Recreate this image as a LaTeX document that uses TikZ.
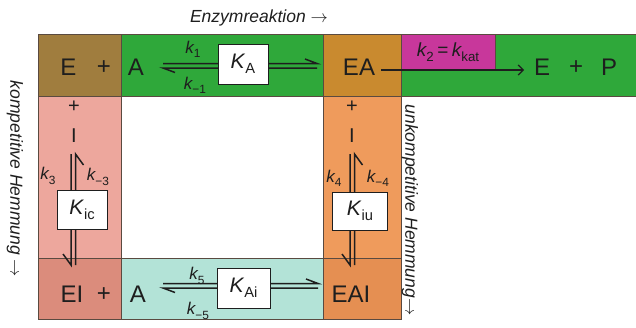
\documentclass[tikz,border=0pt]{standalone}
\usepackage{fontspec}
\setmainfont{Liberation Sans}
\usetikzlibrary{arrows.meta}

\definecolor{cBrown}{HTML}{A07D3E}
\definecolor{cGreen}{HTML}{2FA83A}
\definecolor{cEA}{HTML}{C98A2F}
\definecolor{cMag}{HTML}{C8379B}
\definecolor{cPink}{HTML}{EDA79D}
\definecolor{cEI}{HTML}{DB8C7C}
\definecolor{cCyan}{HTML}{B3E3D7}
\definecolor{cOrange}{HTML}{EF9B5C}
\definecolor{cEAI}{HTML}{E58F52}
\definecolor{cEdge}{HTML}{5A4A40}
\definecolor{cInk}{HTML}{1E1E1E}

% lowered, reduced subscript
\newcommand\lo[1]{\raisebox{-0.25em}{\scalebox{0.7}{#1}}}
% thin arrow for the captions
\newcommand\capar{\ensuremath{\rightarrow}}

\tikzset{
  cell/.style={draw=cEdge, line width=0.6pt},
  big/.style={inner sep=0pt, text=cInk, font=\fontsize{24}{24}\selectfont},
  mid/.style={inner sep=0pt, text=cInk, font=\fontsize{20}{20}\selectfont},
  klab/.style={inner sep=0pt, text=cInk, font=\fontsize{17}{17}\selectfont\itshape},
  kbox/.style={draw=cInk, line width=0.6pt, fill=white, inner sep=0pt,
               text=cInk, font=\fontsize{21}{21}\selectfont},
  note/.style={inner sep=0pt, text=cInk, font=\fontsize{17.5}{17.5}\selectfont\itshape},
  rxn/.style={draw=cInk, line width=1.5pt, line cap=butt},
}

\begin{document}
\begin{tikzpicture}[x=1pt,y=-1pt]
\useasboundingbox (0,0) rectangle (636,327);

% coloured cells of the scheme
\path[cell,fill=cGreen]  (121,34) rectangle (637,96);
\path[cell,fill=cBrown]  (38,34)  rectangle (121,96);
\path[cell,fill=cEA]     (323,34) rectangle (401,96);
\path[cell,fill=cMag]    (401,34) rectangle (495,70);
\path[cell,fill=cPink]   (38,96)  rectangle (121,258);
\path[cell,fill=cEI]     (38,258) rectangle (121,319);
\path[cell,fill=cCyan]   (121,258) rectangle (323,319);
\path[cell,fill=cOrange] (323,96) rectangle (401,258);
\path[cell,fill=cEAI]    (323,258) rectangle (401,319);

% side and top captions
\node[note] (top) at (259,18) {Enzymreaktion \capar};
\node[note, rotate=-90] (left) at (15,179) {kompetitive Hemmung \capar};
\node[note, rotate=-90] (right) at (410,210) {unkompetitive Hemmung\capar};

% species
\node[big] (E1) at (68.5,67) {E};
\node[big] (p1) at (104,68) {+};
\node[big] (A1) at (136,67) {A};
\node[big] (EA) at (359,67) {EA};
\node[big] (E2) at (542,67) {E};
\node[big] (p2) at (576,68) {+};
\node[big] (P)  at (609,67) {P};
\node[big] (EI) at (72,294) {EI};
\node[big] (p3) at (104,295) {+};
\node[big] (A2) at (138,294) {A};
\node[big] (EAI) at (351,294) {EAI};
\node[mid] (pL) at (74,107) {+};
\node[mid] (IL) at (74,136) {I};
\node[mid] (pR) at (352,107) {+};
\node[mid] (IR) at (352,136) {I};

% E + A <=> EA
\coordinate (a1) at (163,63.5); \coordinate (a2) at (317,63.5);
\coordinate (b1) at (163,68); \coordinate (b2) at (317,68);
\draw[rxn] (a1) -- (a2) -- ++(-12,-4.5);
\draw[rxn] (b2) -- (b1) -- ++(12,4.5);
\node[kbox, minimum width=50pt, minimum height=40pt] (KA) at (243,64) {\textit{K}\lo{A}};
\node[klab] (k1)  at (193,49) {k\lo{\upshape 1}};
\node[klab] (km1) at (195,85) {k\lo{\upshape −1}};

% EA -> E + P
\node[klab, font=\fontsize{19}{19}\selectfont\itshape] (k2) at (448,52) {k\lo{\upshape 2}\kern3.5pt\upshape=\kern3.5pt\itshape k\lo{\upshape kat}};
\coordinate (c1) at (381,70); \coordinate (c2) at (524,70);
\draw[rxn, line width=1.2pt, -{Straight Barb[length=5pt,width=10pt]}] (c1) -- (c2);

% EI + A <=> EAI
\coordinate (d1) at (163,283.5); \coordinate (d2) at (318,283.5);
\coordinate (e1) at (163,288); \coordinate (e2) at (318,288);
\draw[rxn] (d1) -- (d2) -- ++(-12,-4.5);
\draw[rxn] (e2) -- (e1) -- ++(12,4.5);
\node[kbox, minimum width=53pt, minimum height=40pt] (KAi) at (243.5,288) {\textit{K}\lo{Ai}};
\node[klab] (k5)  at (197,276) {k\lo{\upshape 5}};
\node[klab] (km5) at (198,311) {k\lo{\upshape −5}};

% E + I <=> EI
\coordinate (f1) at (71,154); \coordinate (f2) at (71,265);
\coordinate (g1) at (75.5,265); \coordinate (g2) at (75.5,154);
\draw[rxn] (f1) -- (f2) -- ++(-8,-11);
\draw[rxn] (g1) -- (g2) -- ++(8,11);
\node[kbox, minimum width=50pt, minimum height=39pt] (Kic) at (82,210) {\textit{K}\lo{ic}};
\node[klab] (k3)  at (48,176) {k\lo{\upshape 3}};
\node[klab] (km3) at (98,177) {k\lo{\upshape −3}};

% EA + I <=> EAI
\coordinate (h1) at (350,154); \coordinate (h2) at (350,265);
\coordinate (i1) at (354.5,265); \coordinate (i2) at (354.5,154);
\draw[rxn] (h1) -- (h2) -- ++(-8,-11);
\draw[rxn] (i1) -- (i2) -- ++(8,11);
\node[kbox, minimum width=55pt, minimum height=38pt] (Kiu) at (360,211) {\textit{K}\lo{iu}};
\node[klab] (k4)  at (334,178) {k\lo{\upshape 4}};
\node[klab] (km4) at (378,178) {k\lo{\upshape −4}};
\end{tikzpicture}
\end{document}
